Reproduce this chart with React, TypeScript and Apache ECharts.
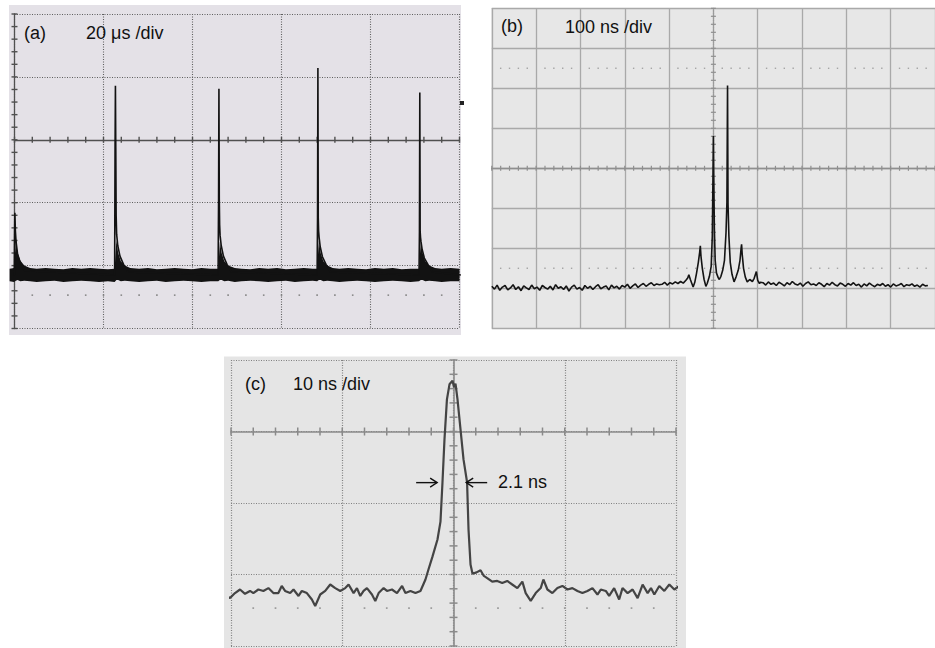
import React, { useEffect, useRef } from "react";
import * as echarts from "echarts";

// ---------- texts ----------
const PANEL_TAGS = ["(a)", "(b)", "(c)"];
const TIME_BASES = ["20 μs /div", "100 ns /div", "10 ns /div"];
const FWHM_TEXT = "2.1 ns";

// ---------- panel (a): x in µs, y in divisions ----------
const A_TRACE: [number, number][] = [
  [-1.1, -2.15], [-0.05, -2.15], [0.02, -1.5], [0.08, -1.16], [0.14, -1.16], [0.2, -1.45], [0.35, -1.62], [0.7, -1.82], [1.3, -1.95], [2.3, -2.08],
  [22.5, -2.15], [22.6, -0.13], [22.68, 0.86], [22.76, -0.13], [22.84, -1.2], [22.95, -1.5], [23.2, -1.68], [23.7, -1.85], [24.5, -1.98], [25.5, -2.1],
  [45.75, -2.15], [45.86, -0.95], [45.94, 0.81], [46.02, -0.95], [46.1, -1.35], [46.2, -1.52], [46.45, -1.68], [46.95, -1.85], [47.75, -1.98], [48.75, -2.1],
  [68.0, -2.15], [68.1, -1.24], [68.18, 1.14], [68.26, -1.24], [68.34, -1.45], [68.45, -1.55], [68.7, -1.7], [69.2, -1.86], [70.0, -1.98], [71.0, -2.1],
  [90.9, -2.15], [91.0, -1.46], [91.08, 0.75], [91.16, -1.46], [91.24, -1.55], [91.35, -1.62], [91.6, -1.74], [92.1, -1.88], [92.9, -1.98], [93.9, -2.1],
  [100.3, -2.15],
];
const A_BAND_X = [
  -1.1, -0.1, 0.3, 0.7, 1.3, 2.2, 3.5, 5, 7, 9, 11, 13, 15, 17, 19, 21, 22.5,
  22.9, 23.3, 23.9, 24.8, 26, 28, 30, 32, 34, 36, 38, 40, 42, 44, 45.8,
  46.15, 46.55, 47.15, 48, 49.5, 51, 53, 55, 57, 59, 61, 63, 65, 67, 68.0,
  68.4, 68.8, 69.4, 70.3, 71.5, 73, 75, 77, 79, 81, 83, 85, 87, 89, 90.9,
  91.3, 91.7, 92.3, 93.2, 94.5, 96, 98, 100,
];
const A_BAND_TOP = [
  -2.05, -2.04, -1.62, -1.8, -1.92, -2.0, -2.04, -2.05, -2.04, -2.05, -2.06, -2.04, -2.05, -2.04, -2.05, -2.06, -2.05,
  -1.6, -1.8, -1.93, -2.0, -2.04, -2.05, -2.04, -2.06, -2.05, -2.04, -2.05, -2.06, -2.04, -2.05, -2.05,
  -1.62, -1.8, -1.93, -2.0, -2.04, -2.05, -2.06, -2.04, -2.05, -2.04, -2.06, -2.05, -2.04, -2.05, -2.05,
  -1.6, -1.8, -1.93, -2.0, -2.04, -2.05, -2.04, -2.05, -2.06, -2.04, -2.05, -2.04, -2.06, -2.05, -2.05,
  -1.62, -1.8, -1.93, -2.0, -2.04, -2.05, -2.04, -2.05,
];
const A_BAND_BOTTOM = [
  -2.25, -2.26, -2.24, -2.23, -2.25, -2.24, -2.25, -2.26, -2.25, -2.24, -2.26, -2.25, -2.24, -2.25, -2.26, -2.25, -2.26,
  -2.23, -2.23, -2.25, -2.24, -2.25, -2.26, -2.25, -2.24, -2.26, -2.25, -2.24, -2.25, -2.26, -2.25, -2.25,
  -2.23, -2.23, -2.25, -2.24, -2.26, -2.25, -2.24, -2.25, -2.26, -2.25, -2.24, -2.26, -2.25, -2.24, -2.25,
  -2.23, -2.23, -2.25, -2.24, -2.25, -2.26, -2.25, -2.24, -2.25, -2.26, -2.25, -2.24, -2.25, -2.26, -2.25,
  -2.23, -2.23, -2.25, -2.24, -2.25, -2.26, -2.25, -2.25,
];

// ---------- panel (b): x in ns, y in divisions ----------
const B_NOISE_STEP = 6;
const B_LEFT_START = -500;
const B_LEFT_NOISE = [
  -2.95, -3.02, -2.92, -3.05, -2.97, -2.93, -3.04, -2.99, -2.91, -3.03,
  -2.96, -3.06, -2.94, -2.99, -3.03, -2.92, -3.01, -2.97, -3.05, -2.93,
  -2.98, -3.02, -2.95, -3.04, -2.91, -3.0, -2.96, -3.03, -2.94, -3.07,
  -2.97, -2.92, -3.02, -2.98, -3.05, -2.93, -3.0, -2.95, -3.03, -2.96,
  -2.91, -3.01, -2.97, -2.94, -3.04, -2.92, -2.99, -2.95, -3.02, -2.93,
  -2.97, -2.9, -3.0, -2.94, -2.89, -2.98, -2.92, -2.88, -2.95, -2.9,
  -2.86, -2.93, -2.89, -2.91,
];
const B_PEAKS: [number, number][] = [
  [-116, -2.9], [-110, -2.85], [-104, -2.92], [-98, -2.86], [-92, -2.89], [-86, -2.84], [-80, -2.88], [-74, -2.83], [-68, -2.87],
  [-62, -2.8], [-58, -2.74], [-55.4, -2.66], [-52, -2.78], [-48, -2.9], [-45.7, -2.97], [-42, -2.85], [-38, -2.62], [-34, -2.35],
  [-31, -2.1], [-29.5, -1.94], [-28, -2.2], [-25, -2.5], [-21, -2.78], [-17, -2.95], [-14, -2.88], [-9, -2.7], [-5, -2.45],
  [-2.5, -1.7], [-1, -0.25], [0, 0.81], [0.8, -0.2], [2.2, -1.5], [4, -2.3], [7, -2.62], [11, -2.74], [13.3, -2.78], [17, -2.7],
  [21, -2.55], [25, -2.3], [28.5, -1.6], [30.5, -0.85], [31.9, 2.07], [33, -0.9], [35, -1.7], [38, -2.35], [42, -2.65], [46.6, -2.84],
  [51, -2.72], [56, -2.55], [60, -2.3], [62.5, -2.0], [63.6, -1.9], [65, -2.15], [68, -2.5], [72, -2.72], [76.3, -2.84], [82, -2.78],
  [88, -2.83], [92, -2.75], [96.9, -2.58], [100, -2.8], [104, -2.88], [106, -2.85],
];
const B_RIGHT_START = 112;
const B_RIGHT_NOISE = [
  -2.86, -2.92, -2.84, -2.9, -2.87, -2.93, -2.85, -2.89, -2.94, -2.86,
  -2.91, -2.83, -2.89, -2.92, -2.87, -2.95, -2.88, -2.84, -2.91, -2.89,
  -2.93, -2.86, -2.9, -2.96, -2.88, -2.92, -2.85, -2.91, -2.94, -2.87,
  -2.9, -2.95, -2.88, -2.92, -2.86, -2.93, -2.9, -2.97, -2.89, -2.94,
  -2.87, -2.92, -2.96, -2.9, -2.93, -2.88, -2.95, -2.91, -2.97, -2.89,
  -2.94, -2.92, -2.88, -2.96, -2.91, -2.93, -2.89, -2.95, -2.92, -2.97,
  -2.9, -2.94, -2.93,
];

// ---------- panel (c): x in ns, y in divisions ----------
const C_TRACE: [number, number][] = [
  [-20.63, -2.28], [-20.09, -2.33], [-19.64, -2.26], [-19.19, -2.21], [-18.74, -2.27], [-18.29, -2.23], [-17.99, -2.26], [-17.54, -2.21],
  [-17.09, -2.23], [-16.64, -2.19], [-16.19, -2.26], [-15.74, -2.26], [-15.44, -2.16], [-15.14, -2.23], [-14.68, -2.26], [-14.38, -2.21],
  [-13.93, -2.3], [-13.63, -2.23], [-13.18, -2.26], [-12.73, -2.35], [-12.43, -2.44], [-11.98, -2.28], [-11.53, -2.23], [-11.08, -2.14],
  [-10.63, -2.19], [-10.18, -2.23], [-9.73, -2.19], [-9.43, -2.14], [-8.98, -2.26], [-8.68, -2.19], [-8.38, -2.3], [-8.08, -2.23],
  [-7.78, -2.19], [-7.33, -2.28], [-7.03, -2.37], [-6.73, -2.26], [-6.28, -2.19], [-5.98, -2.23], [-5.53, -2.21], [-5.08, -2.26],
  [-4.62, -2.16], [-4.32, -2.26], [-3.87, -2.23], [-3.42, -2.26], [-2.97, -2.23],
  [-2.52, -2.07], [-2.25, -1.93], [-1.89, -1.75], [-1.44, -1.51], [-1.17, -1.26], [-0.99, -0.71], [-0.81, -0.11], [-0.59, 0.45],
  [-0.36, 0.66], [-0.09, 0.71], [0.05, 0.62], [0.18, 0.67], [0.36, 0.45], [0.63, 0.03], [0.9, -0.39], [1.22, -0.71], [1.35, -1.37],
  [1.53, -1.86], [1.71, -1.99], [2.07, -1.97], [2.43, -1.94], [2.73, -2.02], [3.03, -2.05], [3.48, -2.1], [3.93, -2.09], [4.38, -2.12],
  [4.83, -2.09], [5.28, -2.14], [5.74, -2.19], [6.19, -2.1], [6.49, -2.26], [6.94, -2.37], [7.39, -2.26], [7.84, -2.19], [8.08, -2.07],
  [8.44, -2.21], [8.89, -2.26], [9.34, -2.19], [9.79, -2.16], [10.24, -2.21], [10.69, -2.19], [11.14, -2.23], [11.59, -2.26],
  [12.04, -2.23], [12.49, -2.19], [12.94, -2.28], [13.24, -2.21], [13.69, -2.23], [13.99, -2.3], [14.44, -2.19], [14.89, -2.35],
  [15.19, -2.19], [15.65, -2.26], [16.1, -2.21], [16.55, -2.33], [17.0, -2.14], [17.45, -2.26], [17.75, -2.19], [18.05, -2.28],
  [18.5, -2.16], [18.95, -2.23], [19.4, -2.14], [19.85, -2.21], [20.3, -2.16], [20.9, -2.12],
];
// FWHM arrows: tip x (ns), y (div), direction (1 = pointing right, -1 = pointing left)
const C_FWHM_ARROWS: [number, number, number][] = [
  [-1.47, -0.715, 1],
  [1.14, -0.715, -1],
];

// ---------- helpers for graticule decorations ----------
function steps(from: number, to: number, step: number): number[] {
  const out: number[] = [];
  const n = Math.round((to - from) / step);
  for (let i = 0; i <= n; i++) out.push(+(from + i * step).toFixed(6));
  return out;
}

const FONT = '"Liberation Sans", Arial, Helvetica, sans-serif';
const TEXT_SIZE = 18;

function axisPair(gridIndex: number, xr: number[], yr: number[], split: any, xLine: any, yLine: any) {
  const common = {
    gridIndex,
    type: "value",
    axisLabel: { show: false },
    axisTick: { show: false },
    splitLine: { show: true, lineStyle: split },
  };
  return {
    x: { ...common, min: xr[0], max: xr[1], interval: xr[2], axisLine: { show: true, onZero: true, lineStyle: xLine } },
    y: { ...common, min: yr[0], max: yr[1], interval: yr[2], axisLine: { show: true, onZero: true, lineStyle: yLine } },
  };
}

function tickSeries(idx: number, data: number[][], size: number[], color: string, symbol = "rect") {
  return {
    type: "scatter",
    xAxisIndex: idx,
    yAxisIndex: idx,
    data,
    symbol,
    symbolSize: size,
    itemStyle: { color, opacity: 1 },
    silent: true,
    z: 1,
    clip: false,
  };
}

function label(text: string, x: number, y: number) {
  return {
    type: "text",
    z: 100,
    x,
    y,
    silent: true,
    style: { text, font: `${TEXT_SIZE}px ${FONT}`, fill: "#111", verticalAlign: "middle" },
  };
}

export default function App() {
  const ref = useRef<HTMLDivElement>(null);

  useEffect(() => {
    if (!ref.current) return;
    const chart = echarts.init(ref.current, undefined, { renderer: "svg" });

    const aAxes = axisPair(0, [0, 100, 20], [-3, 2, 1],
      { color: "#5e5e5e", type: [1, 1.5], width: 1.1 },
      { color: "#505050", width: 1.3 }, { color: "#505050", width: 1.3 });
    const bAxes = axisPair(1, [-500, 500, 100], [-4, 4, 1],
      { color: "#a9a9a9", type: "solid", width: 1.3 },
      { color: "#8f8f8f", width: 1.3 }, { color: "#9a9a9a", width: 1.2, type: "dotted" });
    const cAxes = axisPair(2, [-20, 20, 10], [-3, 1, 1],
      { color: "#808080", type: [1, 1.5], width: 1.2 },
      { color: "#8a8a8a", width: 1.6 }, { color: "#8a8a8a", width: 1.6 });

    const aBandRows = A_BAND_X.map((x, i) => [x, A_BAND_TOP[i], A_BAND_BOTTOM[i]]);
    const bTrace = [
      ...B_LEFT_NOISE.map((v, i) => [B_LEFT_START + i * B_NOISE_STEP, v]),
      ...B_PEAKS,
      ...B_RIGHT_NOISE.map((v, i) => [B_RIGHT_START + i * B_NOISE_STEP, v]),
    ];

    const option: any = {
      animation: false,
      backgroundColor: "#ffffff",
      grid: [
        { left: 14.5, top: 14, width: 445, height: 314.5 },
        { left: 491.8, top: 8.3, width: 451, height: 320 },
        { left: 231, top: 360, width: 445, height: 286 },
      ],
      xAxis: [aAxes.x, bAxes.x, cAxes.x],
      yAxis: [aAxes.y, bAxes.y, cAxes.y],
      graphic: {
        elements: [
          { type: "rect", z: -10, silent: true, shape: { x: 9, y: 5, width: 452, height: 330 }, style: { fill: "#e4e1e7" } },
          { type: "rect", z: -10, silent: true, shape: { x: 491, y: 8, width: 450, height: 320.5 }, style: { fill: "#e7e7e7" } },
          { type: "rect", z: -10, silent: true, shape: { x: 224, y: 356.5, width: 462, height: 291.5 }, style: { fill: "#e5e5e5" } },
          { type: "rect", z: 50, silent: true, shape: { x: 460, y: 101, width: 4, height: 4 }, style: { fill: "#222" } },
          label(PANEL_TAGS[0], 24, 33),
          label(TIME_BASES[0], 86, 33),
          label(PANEL_TAGS[1], 501, 26),
          label(TIME_BASES[1], 565, 27),
          label(PANEL_TAGS[2], 245, 384),
          label(TIME_BASES[2], 293, 384),
          label(FWHM_TEXT, 498, 482),
        ],
      },
      series: [
        // ----- panel (a) -----
        {
          type: "custom",
          xAxisIndex: 0,
          yAxisIndex: 0,
          data: aBandRows,
          encode: { x: 0, y: [1, 2] },
          clip: false,
          silent: true,
          z: 3,
          renderItem: (params: any, api: any) => {
            if (params.dataIndex !== 0) return null;
            const top = aBandRows.map((r) => api.coord([r[0], r[1]]));
            const bot = aBandRows.slice().reverse().map((r) => api.coord([r[0], r[2]]));
            return { type: "polygon", shape: { points: top.concat(bot) }, style: { fill: "#121212" } };
          },
        },
        {
          type: "line",
          xAxisIndex: 0,
          yAxisIndex: 0,
          data: A_TRACE,
          symbol: "none",
          clip: false,
          silent: true,
          z: 4,
          lineStyle: { color: "#121212", width: 1.6 },
        },
        tickSeries(0, steps(0, 100, 4).map((x) => [x, 0]), [1.4, 6], "#505050"),
        tickSeries(0, steps(-3, 2, 0.2).map((y) => [0, y]), [6, 1.4], "#505050"),
        tickSeries(0, steps(4, 96, 4).map((x) => [x, -2.47]), [1.6, 1.6], "#8a8a8a"),
        // ----- panel (b) -----
        {
          type: "line",
          xAxisIndex: 1,
          yAxisIndex: 1,
          data: bTrace,
          symbol: "none",
          clip: false,
          silent: true,
          z: 4,
          lineStyle: { color: "#141414", width: 1.6 },
        },
        tickSeries(1, steps(-500, 500, 20).map((x) => [x, 0]), [1.2, 5], "#8f8f8f"),
        tickSeries(1, steps(-4, 4, 0.2).map((y) => [0, y]), [5, 1.2], "#8f8f8f"),
        tickSeries(1, steps(-500, 500, 20).filter((x) => x % 100 !== 0).flatMap((x) => [[x, 2.5], [x, -2.5]]), [1.4, 1.4], "#a5a5a5"),
        // ----- panel (c) -----
        {
          type: "line",
          xAxisIndex: 2,
          yAxisIndex: 2,
          data: C_TRACE,
          symbol: "none",
          clip: false,
          silent: true,
          z: 4,
          lineStyle: { color: "#444", width: 2.2 },
        },
        tickSeries(2, steps(-20, 20, 2).map((x) => [x, 0]), [1.5, 8], "#8a8a8a"),
        tickSeries(2, steps(-3, 1, 0.2).map((y) => [0, y]), [8, 1.5], "#8a8a8a"),
        tickSeries(2, steps(-18, 18, 2).map((x) => [x, -2.47]), [1.7, 1.7], "#9a9a9a"),
        {
          type: "custom",
          xAxisIndex: 2,
          yAxisIndex: 2,
          data: C_FWHM_ARROWS,
          encode: { x: 0, y: 1 },
          clip: false,
          silent: true,
          z: 6,
          renderItem: (params: any, api: any) => {
            const p = api.coord([api.value(0), api.value(1)]);
            const d = api.value(2);
            const stroke = { stroke: "#111", lineWidth: 1.4, fill: "none" };
            return {
              type: "group",
              children: [
                { type: "line", shape: { x1: p[0] - d * 21, y1: p[1], x2: p[0], y2: p[1] }, style: stroke },
                {
                  type: "polyline",
                  shape: { points: [[p[0] - d * 7, p[1] - 4.5], [p[0], p[1]], [p[0] - d * 7, p[1] + 4.5]] },
                  style: stroke,
                },
              ],
            };
          },
        },
      ],
    };

    chart.setOption(option);
    return () => chart.dispose();
  }, []);

  return (
    <div
      ref={ref}
      style={{ position: "absolute", left: 0, top: 0, width: 935, height: 648, background: "#fff" }}
    />
  );
}
